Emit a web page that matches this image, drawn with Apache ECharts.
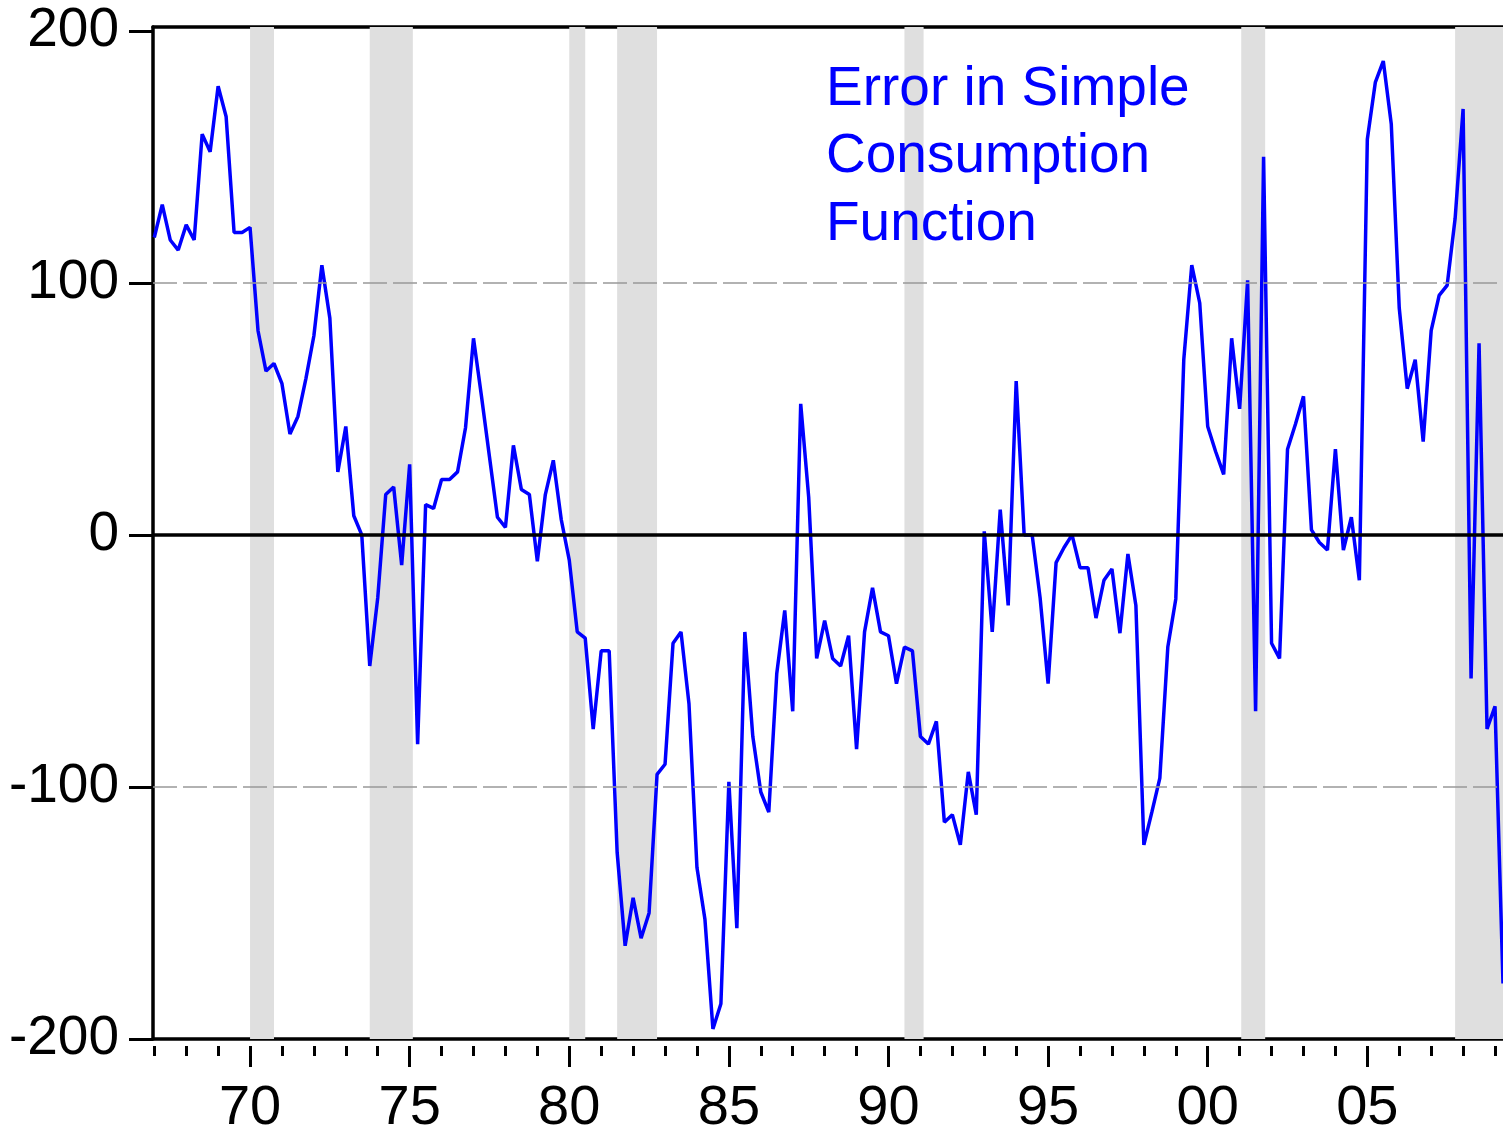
<!DOCTYPE html>
<html>
<head>
<meta charset="utf-8">
<script src="https://cdn.jsdelivr.net/npm/echarts@6/dist/echarts.min.js"></script>
<style>
html,body{margin:0;padding:0;background:#fff;}
#chart{width:1503px;height:1137px;}
</style>
</head>
<body>
<div id="chart"></div>
<script>
// Quarterly series, 1967Q1 .. 2009Q2
const startYear = 1967;
const values = [
  118, 131, 117, 113, 123, 117, 159, 152, 178, 166,
  120, 120, 122, 81, 65, 68, 60, 40, 47, 62,
  79, 107, 86, 25, 43, 7.6, 0, -52, -25, 16,
  19, -12, 28, -83, 12, 10.5, 22, 22, 25, 42.5,
  78, 55, 31, 7, 3, 35.5, 18, 16, -10.5, 16,
  29.6, 6, -10, -38.5, -41, -77, -46, -46, -126, -163,
  -144, -160, -150, -95, -91, -43, -38.5, -67, -132, -152.5,
  -196, -186, -98, -156, -38.5, -80, -102, -110, -55, -30,
  -70, 52, 15, -49, -34, -49, -52, -40, -85, -38.5,
  -21, -38.5, -40, -59, -44.5, -46, -80, -83, -74, -114,
  -111, -123, -94, -111, 1.4, -38.5, 10, -28, 61, 0,
  0, -25, -59, -11, -5, 0, -13, -13, -33, -18,
  -13.5, -39, -7.6, -28, -123, -110, -96.5, -44.5, -25.4, 69.5,
  107, 92, 43, 33, 24, 78, 50, 101, -70, 150,
  -43, -49, 34, 44, 55, 2, -3, -6, 34, -6,
  7, -18, 157, 179.5, 188, 163, 90, 58, 69.5, 37,
  81, 95, 99, 125.5, 169, -57, 76, -77, -68, -178
];
// Recession periods (decimal years)
const recessions = [
  [1970.0, 1970.75], [1973.75, 1975.1], [1980.0, 1980.5], [1981.5, 1982.75],
  [1990.5, 1991.1], [2001.05, 2001.8], [2007.75, 2009.25]
];
const yearTicks = [];
for (let y = 1967; y <= 2009; y++) yearTicks.push(y);
const majorTicks = [1970, 1975, 1980, 1985, 1990, 1995, 2000, 2005];
const yTicks = [-200, -100, 0, 100, 200];
const gridLines = [-100, 100];
const annotation = ['Error in Simple', 'Consumption', 'Function'];

const xMin = 1966.96, xMax = 2009.25;
const seriesData = values.map((v, i) => [startYear + i / 4, v]);
const FONT = '"Liberation Sans", Arial, Helvetica, sans-serif';

const chart = echarts.init(document.getElementById('chart'), null, {renderer: 'canvas'});
const baseX = {type: 'value', min: xMin, max: xMax, gridIndex: 0, splitLine: {show: false}};
chart.setOption({
  animation: false,
  backgroundColor: '#fff',
  grid: {left: 153, right: 0, top: 27, bottom: 93, containLabel: false},
  xAxis: [
    Object.assign({}, baseX, {
      position: 'bottom',
      axisLine: {show: true, onZero: false, lineStyle: {color: '#000', width: 3.5}},
      axisTick: {show: false}, axisLabel: {show: false}
    }),
    Object.assign({}, baseX, {
      position: 'bottom', offset: 7,
      axisLine: {show: false, onZero: false},
      axisTick: {show: true, customValues: yearTicks, length: 10, lineStyle: {color: '#000', width: 3}},
      axisLabel: {show: false}
    }),
    Object.assign({}, baseX, {
      position: 'bottom', offset: 7,
      axisLine: {show: false, onZero: false},
      axisTick: {show: true, customValues: majorTicks, length: 21, lineStyle: {color: '#000', width: 3}},
      axisLabel: {
        show: true, customValues: majorTicks, margin: 35,
        fontSize: 56, fontFamily: FONT, color: '#000',
        formatter: v => String(Math.round(v) % 100).padStart(2, '0')
      }
    }),
    Object.assign({}, baseX, {
      position: 'top',
      axisLine: {show: true, onZero: false, lineStyle: {color: '#000', width: 3.5}},
      axisTick: {show: false}, axisLabel: {show: false}
    })
  ],
  yAxis: [{
    type: 'value', min: -200, max: 201.5, position: 'left',
    axisLine: {show: true, onZero: false, lineStyle: {color: '#000', width: 3.5}},
    axisTick: {show: true, customValues: yTicks, length: 24, lineStyle: {color: '#000', width: 3}},
    axisLabel: {show: true, customValues: yTicks, margin: 34, fontSize: 55, fontFamily: FONT, color: '#000'},
    splitLine: {show: false}
  }],
  series: [
    {
      type: 'line', data: [], z: 1, silent: true,
      markArea: {
        silent: true,
        itemStyle: {color: '#DFDFDF'},
        data: recessions.map(r => [{xAxis: r[0]}, {xAxis: r[1]}])
      }
    },
    {
      type: 'line', data: [], z: 2, silent: true,
      markLine: {
        silent: true, symbol: 'none', label: {show: false},
        data: gridLines.map(g => ({yAxis: g, lineStyle: {color: '#999', width: 1.5, type: [24, 6]}}))
          .concat([{yAxis: 0, lineStyle: {color: '#000', width: 3.5, type: 'solid'}}])
      }
    },
    {
      type: 'line', data: seriesData, z: 3,
      showSymbol: false, symbol: 'none',
      lineStyle: {color: '#0000FF', width: 3.5},
      clip: true
    }
  ],
  graphic: annotation.map((t, i) => ({
    type: 'text', left: 826, top: 62 + i * 67.5, z: 10,
    style: {text: t, fill: '#0000FF', font: '55px ' + FONT, textVerticalAlign: 'middle', verticalAlign: 'middle'}
  }))
});
</script>
</body>
</html>
